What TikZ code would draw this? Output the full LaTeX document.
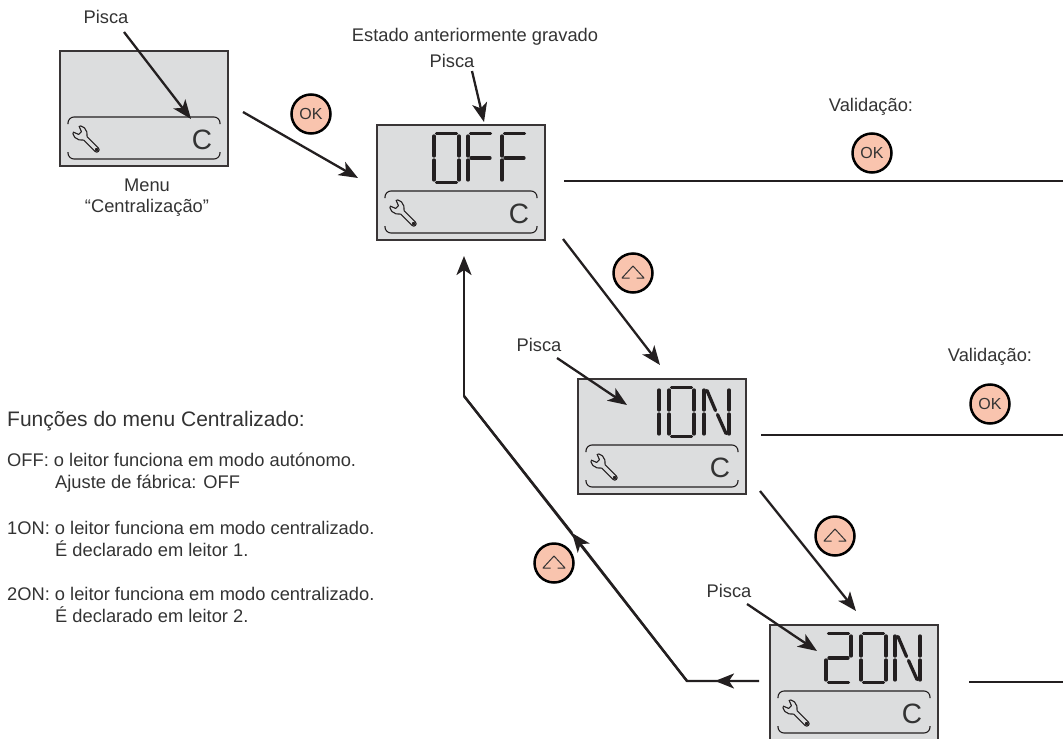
\documentclass[tikz,border=0pt]{standalone}
\usepackage{fontspec}
\setmainfont{Liberation Sans}
\usetikzlibrary{arrows.meta}
\definecolor{ink}{HTML}{231F20}
\definecolor{txt}{HTML}{333333}
\definecolor{lcd}{HTML}{DCDDDE}
\definecolor{peach}{HTML}{F9C4AE}
\tikzset{
  x=1pt,y=-1pt,
  lcdbox/.style={draw=ink!90,line width=2.3pt,fill=lcd,rectangle,anchor=north west,minimum width=168pt,minimum height=115pt,inner sep=0},
  seg/.style={draw=ink,line width=3.3pt,line cap=round},
  pill/.style={draw=ink,line width=1.1pt,rounded corners=6pt},
  wrenchline/.style={draw=ink,line width=1.1pt,line join=round},
  conn/.style={draw=ink,line width=2.3pt},
  arrowc/.style={conn,-{Stealth[length=19pt,width=15pt,inset=5pt]}},
  button/.style={circle,draw=black,line width=2.5pt,fill=peach,minimum size=39pt,inner sep=0},
  oktext/.style={button,font=\fontsize{16}{16}\selectfont,text=txt},
  label/.style={anchor=base,inner sep=0,text=txt,font=\fontsize{18.3}{22}\selectfont},
  labelw/.style={label,anchor=base west},
  ctext/.style={anchor=base,inner sep=0,text=txt,font=\fontsize{28}{28}\selectfont},
  chev/.style={draw=txt,line width=1pt,line join=round}
}
\newcommand\segA{\draw[seg] (2.5,0)--(22.5,0);}
\newcommand\segB{\draw[seg] (25,2.5)--(25,22.5);}
\newcommand\segC{\draw[seg] (25,26.5)--(25,46.5);}
\newcommand\segD{\draw[seg] (2.5,49)--(22.5,49);}
\newcommand\segE{\draw[seg] (0,26.5)--(0,46.5);}
\newcommand\segF{\draw[seg] (0,2.5)--(0,22.5);}
\newcommand\segG{\draw[seg] (3,24.5)--(22,24.5);}
\newcommand\digZero{\segA\segB\segC\segD\segE\segF}
\newcommand\digEff{\segA\segF\segE\segG}
\newcommand\digOne{\segF\segE}
\newcommand\digTwo{\segA\segB\segG\segE\segD}
\newcommand\digEn{\segF\segE\segB\segC\draw[seg] (3,3)--(11.5,23);\draw[seg] (13.5,27)--(22,46);}
\newcommand\lcdbottom[1]{%
  \begin{scope}[shift={(#1.north west)}]
    \draw[pill] (9,74) -- (9,67) -- (161,67) -- (161,74);
    \draw[pill] (9,102) -- (9,109) -- (161,109) -- (161,102);
    \begin{scope}[shift={(23,85)},rotate=-45,scale=.8]
      \draw[wrenchline] (26,3) -- (6,3) .. controls (4,6) and (0,8.5) .. (-4,8.5) -- (-9,7) -- (-10,5) -- (-3.5,2.5) -- (-3.5,-2.5) -- (-10,-5) -- (-9,-7) -- (-4,-8.5) .. controls (0,-8.5) and (4,-6) .. (6,-3) -- (26,-3) .. controls (30,-3) and (30,3) .. (26,3) -- cycle;
      \draw[wrenchline] (26,0) circle[radius=1.2pt];
    \end{scope}
    \node[ctext] (#1c) at (143,99) {C};
  \end{scope}}
\newcommand\lcdglyph[3]{\begin{scope}[shift={(#1.north west)},shift={(#2,9.5)}]#3\end{scope}}
\newcommand\upsym[1]{%
  \draw[chev,shift={(#1)}] (-3.5,5) -- (-11,5) -- (0,-7) -- (11,5) -- (3.5,5);}
\begin{document}
\begin{tikzpicture}
\useasboundingbox (0,0) rectangle (1063,739);
\clip (0,0) rectangle (1063,739);
% LCD boxes
\node[lcdbox] (b1) at (59,50) {};
\node[lcdbox] (b2) at (376,124) {};
\node[lcdbox] (b3) at (577,378) {};
\node[lcdbox] (b4) at (769,624) {};
\lcdbottom{b1}\lcdbottom{b2}\lcdbottom{b3}\lcdbottom{b4}
\lcdglyph{b2}{58}{\digZero}
\lcdglyph{b2}{92}{\digEff}
\lcdglyph{b2}{126}{\digEff}
\lcdglyph{b3}{82}{\digOne}
\lcdglyph{b3}{92}{\digZero}
\lcdglyph{b3}{127}{\digEn}
\lcdglyph{b4}{57}{\digTwo}
\lcdglyph{b4}{92}{\digZero}
\lcdglyph{b4}{126}{\digEn}
% Labels
\node[label] (p1) at (106,23) {Pisca};
\node[label] (est) at (475,41) {Estado anteriormente gravado};
\node[label] (p2) at (452,67) {Pisca};
\node[label] (p3) at (539,351) {Pisca};
\node[label] (p4) at (729,597) {Pisca};
\node[label] (menu) at (147,191) {Menu};
\node[label] (cen) at (147,212) {“Centralização”};
\node[label] (v1) at (871,111) {Validação:};
\node[label] (v2) at (990,361) {Validação:};
\node[labelw,font=\fontsize{21}{24}\selectfont] (tt) at (7,426) {Funções do menu Centralizado:};
\node[labelw] (l1) at (7,466) {OFF: o leitor funciona em modo autónomo.};
\node[labelw] (l2) at (55,488) {Ajuste de fábrica: OFF};
\node[labelw] (l3) at (7,534) {1ON: o leitor funciona em modo centralizado.};
\node[labelw] (l4) at (55,556) {É declarado em leitor 1.};
\node[labelw] (l5) at (7,600) {2ON: o leitor funciona em modo centralizado.};
\node[labelw] (l6) at (55,622) {É declarado em leitor 2.};
% Buttons
\node[oktext] (ok1) at (311,114) {OK};
\node[oktext] (ok2) at (872,153) {OK};
\node[oktext] (ok3) at (990,404) {OK};
\node[button] (up1) at (633,273) {};
\node[button] (up2) at (835,536) {};
\node[button] (up3) at (554,563) {};
\upsym{up1}\upsym{up2}\upsym{up3}
% Free connector ends
\coordinate (a1s) at (124,32);   \coordinate (a1e) at (191,119);
\coordinate (a2s) at (243,112);  \coordinate (a2e) at (358,178);
\coordinate (a3s) at (472,71);   \coordinate (a3e) at (484,122);
\coordinate (a4s) at (563,239);  \coordinate (a4e) at (660,365);
\coordinate (a5s) at (557,358);  \coordinate (a5e) at (627,405);
\coordinate (a6s) at (760,491);  \coordinate (a6e) at (856,611);
\coordinate (a7s) at (747,604);  \coordinate (a7e) at (817,651);
\coordinate (l1s) at (564,181);  \coordinate (l1e) at (1063,181);
\coordinate (l2s) at (761,435);  \coordinate (l2e) at (1063,435);
\coordinate (l3s) at (969,682);  \coordinate (l3e) at (1063,682);
\coordinate (r0) at (759,681);   \coordinate (r1) at (687,681);
\coordinate (r1a) at (715,681);
\coordinate (r2) at (464,396);   \coordinate (r2a) at (572,533);
\coordinate (r3) at (464,256);
% Connectors
\draw[arrowc] (a1s) -- (a1e);
\draw[arrowc] (a2s) -- (a2e);
\draw[arrowc] (a3s) -- (a3e);
\draw[arrowc] (a4s) -- (a4e);
\draw[arrowc] (a5s) -- (a5e);
\draw[arrowc] (a6s) -- (a6e);
\draw[arrowc] (a7s) -- (a7e);
\draw[conn] (l1s) -- (l1e);
\draw[conn] (l2s) -- (l2e);
\draw[conn] (l3s) -- (l3e);
\draw[conn,line join=miter] (r0) -- (r1) -- (r2);
\draw[arrowc] (r0) -- (r1a);
\draw[arrowc] (r1) -- (r2a);
\draw[arrowc] (r2) -- (r3);
\draw[conn] (r2a) -- (r2);
\end{tikzpicture}
\end{document}
